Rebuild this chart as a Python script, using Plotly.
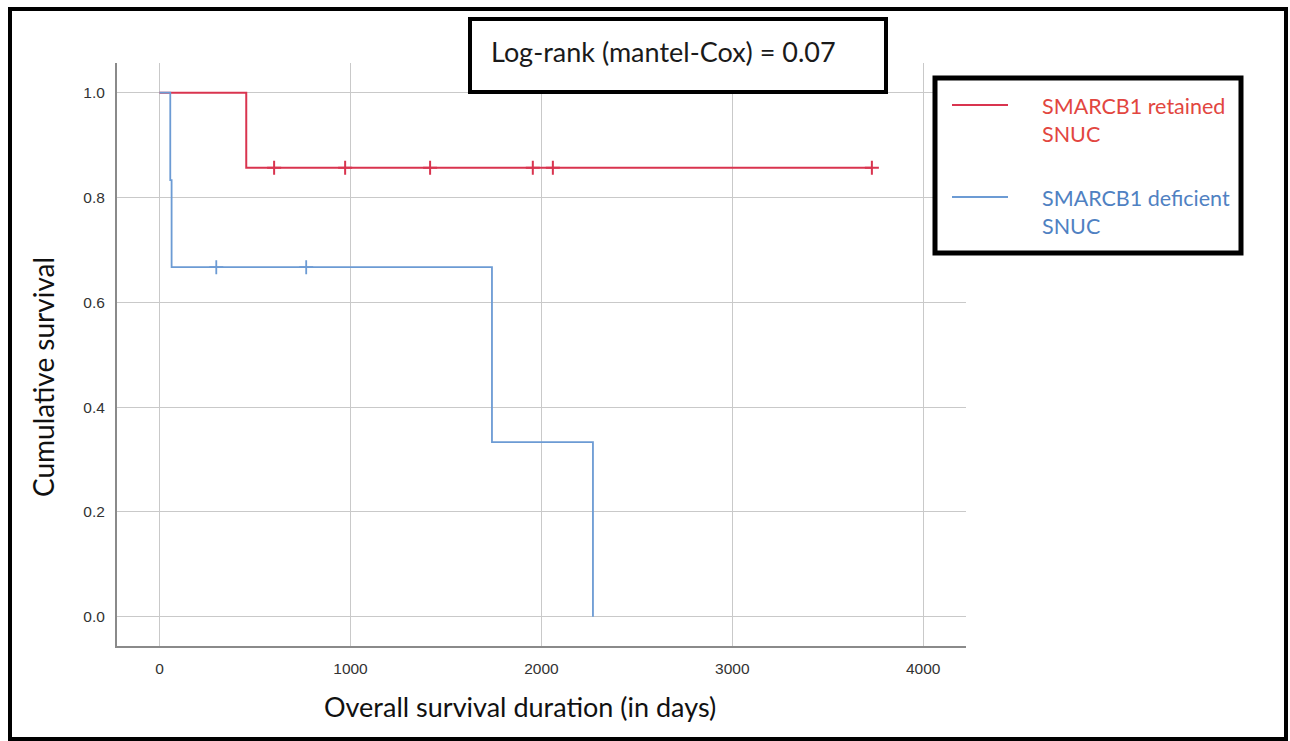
import plotly.graph_objects as go

# ---- data ----
retained_time = [0, 454, 3731]
retained_surv = [1.0, 0.857, 0.857]
retained_censor_time = [600, 972, 1417, 1955, 2060, 3731]
retained_censor_surv = [0.857, 0.857, 0.857, 0.857, 0.857, 0.857]

deficient_time = [0, 56, 63, 1741, 2270]
deficient_surv = [1.0, 0.833, 0.667, 0.333, 0.0]
deficient_censor_time = [297, 768]
deficient_censor_surv = [0.667, 0.667]

x_ticks = [0, 1000, 2000, 3000, 4000]
y_ticks = [0.0, 0.2, 0.4, 0.6, 0.8, 1.0]

legend_names = ["SMARCB1 retained<br>SNUC", "SMARCB1 deficient<br>SNUC"]
stat_text = "Log-rank (mantel-Cox) = 0.07"
x_title = "Overall survival duration (in days)"
y_title = "Cumulative survival"

RED = "#d9344f"
BLUE = "#6c9bd4"
RED_TXT = "#e2463f"
BLUE_TXT = "#4f81c2"

W, H = 1290, 741
L, R, T, B = 117, 324, 63, 95
PW, PH = W - L - R, H - T - B


def px(p):
    return (p - L) / PW


def py(p):
    return (H - B - p) / PH


fig = go.Figure()
fig.add_trace(go.Scatter(x=retained_time, y=retained_surv, mode="lines",
                         line=dict(color=RED, width=2, shape="hv"),
                         name="SMARCB1 retained SNUC", showlegend=False))
fig.add_trace(go.Scatter(x=retained_censor_time, y=retained_censor_surv, mode="markers",
                         marker=dict(symbol="cross-thin", size=10, line=dict(color=RED, width=2)),
                         showlegend=False, name="retained censored"))
fig.add_trace(go.Scatter(x=deficient_time, y=deficient_surv, mode="lines",
                         line=dict(color=BLUE, width=1.8, shape="hv"),
                         name="SMARCB1 deficient SNUC", showlegend=False))
fig.add_trace(go.Scatter(x=deficient_censor_time, y=deficient_censor_surv, mode="markers",
                         marker=dict(symbol="cross-thin", size=10, line=dict(color=BLUE, width=1.8)),
                         showlegend=False, name="deficient censored"))

shapes = []
annotations = []

# outer frame
shapes.append(dict(type="rect", xref="paper", yref="paper",
                   x0=px(10), x1=px(1286), y0=py(739), y1=py(9),
                   line=dict(color="black", width=4), layer="above"))
# stat box
shapes.append(dict(type="rect", xref="paper", yref="paper",
                   x0=px(470), x1=px(886), y0=py(92), y1=py(19),
                   line=dict(color="black", width=4), fillcolor="white", layer="above"))
annotations.append(dict(xref="paper", yref="paper", x=px(489), y=py(51),
                        xanchor="left", yanchor="middle", text=stat_text, showarrow=False,
                        font=dict(family="Lato", size=27, color="#1a1a1a")))
# legend box
shapes.append(dict(type="rect", xref="paper", yref="paper",
                   x0=px(935), x1=px(1241), y0=py(253), y1=py(78),
                   line=dict(color="black", width=5), fillcolor="white", layer="above"))
legend_colors = [(RED, RED_TXT), (BLUE, BLUE_TXT)]
legend_y = [105, 197]
for name, (lc, tc), yy in zip(legend_names, legend_colors, legend_y):
    shapes.append(dict(type="line", xref="paper", yref="paper",
                       x0=px(952), x1=px(1008), y0=py(yy), y1=py(yy),
                       line=dict(color=lc, width=2), layer="above"))
    annotations.append(dict(xref="paper", yref="paper", x=px(1040), y=py(yy - 14),
                            xanchor="left", yanchor="top", align="left", text=name,
                            showarrow=False,
                            font=dict(family="Lato", size=21.5, color=tc)))

# axis titles
annotations.append(dict(xref="paper", yref="paper", x=px(520), y=py(706),
                        xanchor="center", yanchor="middle", text=x_title, showarrow=False,
                        font=dict(family="Lato", size=27, color="#111111")))
annotations.append(dict(xref="paper", yref="paper", x=px(43), y=py(377),
                        xanchor="center", yanchor="middle", text=y_title, showarrow=False,
                        textangle=-90,
                        font=dict(family="Lato", size=28, color="#111111")))

fig.update_layout(
    width=W, height=H,
    margin=dict(l=L, r=R, t=T, b=B, autoexpand=False),
    paper_bgcolor="white", plot_bgcolor="white",
    shapes=shapes, annotations=annotations,
    showlegend=False,
)
fig.update_xaxes(range=[-223, 4224], tickvals=x_ticks, ticktext=[str(v) for v in x_ticks],
                 showgrid=True, gridcolor="#c9c9c9", gridwidth=1, zeroline=False,
                 showline=True, linecolor="#8a8a8a", linewidth=2,
                 ticks="outside", ticklen=7, tickcolor="rgba(0,0,0,0)",
                 tickfont=dict(family="Liberation Sans", size=15.5, color="#333333"))
fig.update_yaxes(range=[-0.056, 1.0567], tickvals=y_ticks,
                 ticktext=[f"{v:.1f}" for v in y_ticks],
                 showgrid=True, gridcolor="#c9c9c9", gridwidth=1, zeroline=False,
                 showline=True, linecolor="#8a8a8a", linewidth=2,
                 ticks="outside", ticklen=7, tickcolor="rgba(0,0,0,0)",
                 tickfont=dict(family="Liberation Sans", size=15.5, color="#333333"))

fig.write_html("out.html", config={"displayModeBar": False},
               post_script="document.body.style.margin='0';document.body.style.overflow='hidden';")
